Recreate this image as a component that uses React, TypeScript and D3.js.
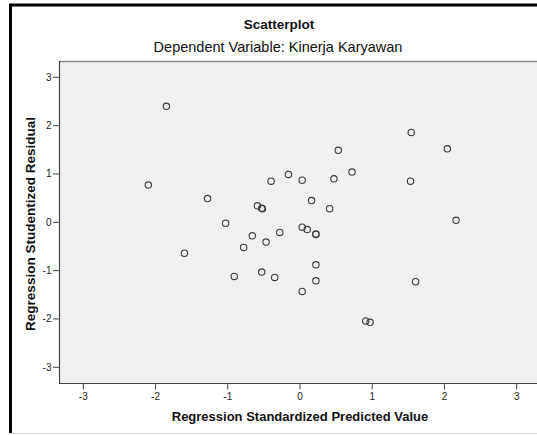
import React from "react";
import * as d3 from "d3";

const predicted: number[] = [
  -1.85, -2.10, -1.28, -1.03, -1.60, -0.91,
  1.54, 2.04, 0.53, 0.72, -0.16, -0.40, 0.03, 0.47, 1.53, 0.16,
  -0.59, -0.53, -0.52, 0.41, 2.16, 0.03, 0.10, 0.22, 0.22, -0.28,
  -0.66, -0.47, -0.78, -0.53, -0.35, 0.22, 0.22, 0.03, 1.60, 0.91, 0.97,
];
const residual: number[] = [
  2.40, 0.77, 0.49, -0.02, -0.64, -1.12,
  1.86, 1.52, 1.49, 1.04, 0.99, 0.85, 0.87, 0.90, 0.85, 0.45,
  0.34, 0.29, 0.28, 0.28, 0.04, -0.10, -0.15, -0.24, -0.25, -0.21,
  -0.28, -0.41, -0.52, -1.03, -1.14, -0.88, -1.21, -1.43, -1.23, -2.04, -2.07,
];
const xTicks: number[] = [-3, -2, -1, 0, 1, 2, 3];
const yTicks: number[] = [-3, -2, -1, 0, 1, 2, 3];

const title = "Scatterplot";
const subtitle = "Dependent Variable: Kinerja Karyawan";
const xLabel = "Regression Standardized Predicted Value";
const yLabel = "Regression Studentized Residual";

export default function App() {
  const W = 537;
  const H = 435;
  const plotL = 59;
  const plotT = 61;
  const plotB = 383;
  const x = d3.scaleLinear().domain([-3, 3]).range([83.3, 516.7]);
  const y = d3.scaleLinear().domain([-3, 3]).range([367.3, 77.3]);
  const font = "Arial, 'Liberation Sans', sans-serif";

  return (
    <svg
      width={W}
      height={H}
      style={{ position: "absolute", left: 0, top: 0, background: "#fff" }}
      fontFamily={font}
    >
      {/* outer frame */}
      <line x1={9} y1={5} x2={W} y2={5} stroke="#000" strokeWidth={3} />
      <line x1={10.5} y1={4} x2={10.5} y2={433} stroke="#000" strokeWidth={3} />
      <line x1={10} y1={433.5} x2={W} y2={433.5} stroke="#dcdcdc" strokeWidth={1} />

      {/* titles */}
      <text x={279} y={29} textAnchor="middle" fontSize={13.5} fontWeight={600} fill="#111">
        {title}
      </text>
      <text x={278} y={52} textAnchor="middle" fontSize={14.5} fill="#111">
        {subtitle}
      </text>

      {/* plot area */}
      <rect x={plotL} y={plotT} width={W - plotL} height={plotB - plotT} fill="#f0f0f0" />
      <line x1={plotL} y1={plotT + 0.5} x2={W} y2={plotT + 0.5} stroke="#8a8a8a" strokeWidth={1.5} />
      <line x1={plotL + 0.5} y1={plotT} x2={plotL + 0.5} y2={plotB} stroke="#444" strokeWidth={1.2} />
      <line x1={plotL} y1={plotB + 0.5} x2={W} y2={plotB + 0.5} stroke="#444" strokeWidth={1.2} />

      {/* y ticks */}
      {yTicks.map((t) => (
        <g key={"y" + t}>
          <line x1={53} x2={plotL} y1={y(t)} y2={y(t)} stroke="#444" strokeWidth={1} />
          <text x={51.5} y={y(t) + 3.5} textAnchor="end" fontSize={10} fill="#222">
            {t}
          </text>
        </g>
      ))}

      {/* x ticks */}
      {xTicks.map((t) => (
        <g key={"x" + t}>
          <line x1={x(t)} x2={x(t)} y1={plotB} y2={389.5} stroke="#444" strokeWidth={1} />
          <text x={x(t)} y={400} textAnchor="middle" fontSize={10} fill="#222">
            {t}
          </text>
        </g>
      ))}

      {/* points */}
      {predicted.map((p, i) => (
        <circle
          key={i}
          cx={x(p)}
          cy={y(residual[i])}
          r={3.2}
          fill="none"
          stroke="#3a3a3a"
          strokeWidth={1.1}
        />
      ))}

      {/* axis labels */}
      <text x={300} y={421} textAnchor="middle" fontSize={13} fontWeight="bold" fill="#111">
        {xLabel}
      </text>
      <text
        transform={`translate(34.5,224) rotate(-90)`}
        textAnchor="middle"
        fontSize={13.5}
        fontWeight="bold"
        fill="#111"
      >
        {yLabel}
      </text>
    </svg>
  );
}
